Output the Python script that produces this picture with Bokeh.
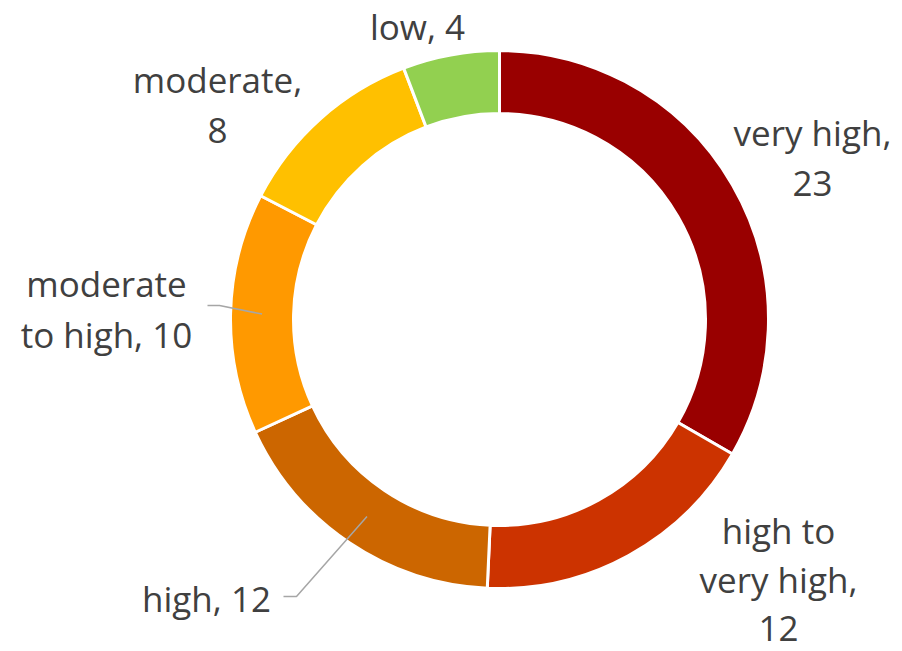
import numpy as np
from bokeh.plotting import figure
from bokeh.models import Range1d, ColumnDataSource
from bokeh.embed import file_html
from bokeh.resources import INLINE
from bokeh.core.properties import value

# ---- data ----
categories = ["very high", "high to very high", "high", "moderate to high", "moderate", "low"]
counts = [23, 12, 12, 10, 8, 4]
colors = ["#990000", "#CC3300", "#CC6600", "#FF9900", "#FFC000", "#92D050"]
# words per label line
line_groups = [[2, 1], [2, 2, 1], [2], [1, 3], [1, 1], [2]]

# ---- layout (page pixels) ----
W, H = 902, 651
CX, CY = 499, 319
R_OUT, R_IN = 269, 206
label_anchor = [(812, 132), (778, 530), (206, 598), (106, 283), (217, 79), (417, 26)]
LINE_H = 50.5
line_h = {1: 49.0}
leader_start = {2: [(283, 596), (296, 596)], 3: [(207, 305), (219, 305)]}


def dx(px):
    return px


def dy(py):
    return H - py


p = figure(width=W, height=H, x_range=Range1d(0, W), y_range=Range1d(0, H),
           output_backend="svg", toolbar_location=None, min_border=0,
           x_axis_type=None, y_axis_type=None)
p.grid.visible = False
p.outline_line_color = None
p.background_fill_color = "white"

total = float(sum(counts))
cum = np.concatenate([[0], np.cumsum(counts)])
start = np.pi / 2 - 2 * np.pi * cum[:-1] / total
end = np.pi / 2 - 2 * np.pi * cum[1:] / total

src = ColumnDataSource(dict(start=start, end=end, color=colors, cat=categories, val=counts))
p.annular_wedge(x=dx(CX), y=dy(CY), inner_radius=R_IN, outer_radius=R_OUT,
                inner_radius_units="screen", outer_radius_units="screen",
                start_angle="start", end_angle="end", direction="clock",
                fill_color="color", line_color="white", line_width=3, source=src)

# leader lines
for i, pts in leader_start.items():
    mid = (start[i] + end[i]) / 2
    rm = (R_IN + R_OUT) / 2
    ex = dx(CX) + rm * np.cos(mid)
    ey = dy(CY) + rm * np.sin(mid)
    xs = [dx(x) for x, _ in pts] + [ex]
    ys = [dy(y) for _, y in pts] + [ey]
    p.line(xs, ys, line_color="#A6A6A6", line_width=1.5)

# labels
tx, ty, tt = [], [], []
for i, (cat, v) in enumerate(zip(categories, counts)):
    words = f"{cat}, {v}".split(" ")
    k = 0
    ax, ay = label_anchor[i]
    lh = line_h.get(i, LINE_H)
    for j, n in enumerate(line_groups[i]):
        tt.append(" ".join(words[k:k + n]))
        k += n
        tx.append(dx(ax))
        ty.append(dy(ay + j * lh))

p.text(x=tx, y=ty, text=tt, text_align="center", text_baseline="middle",
       text_font=value("Open Sans"), text_font_size="35px", text_color="#404040")

open("out.html", "w").write(file_html(p, INLINE))
